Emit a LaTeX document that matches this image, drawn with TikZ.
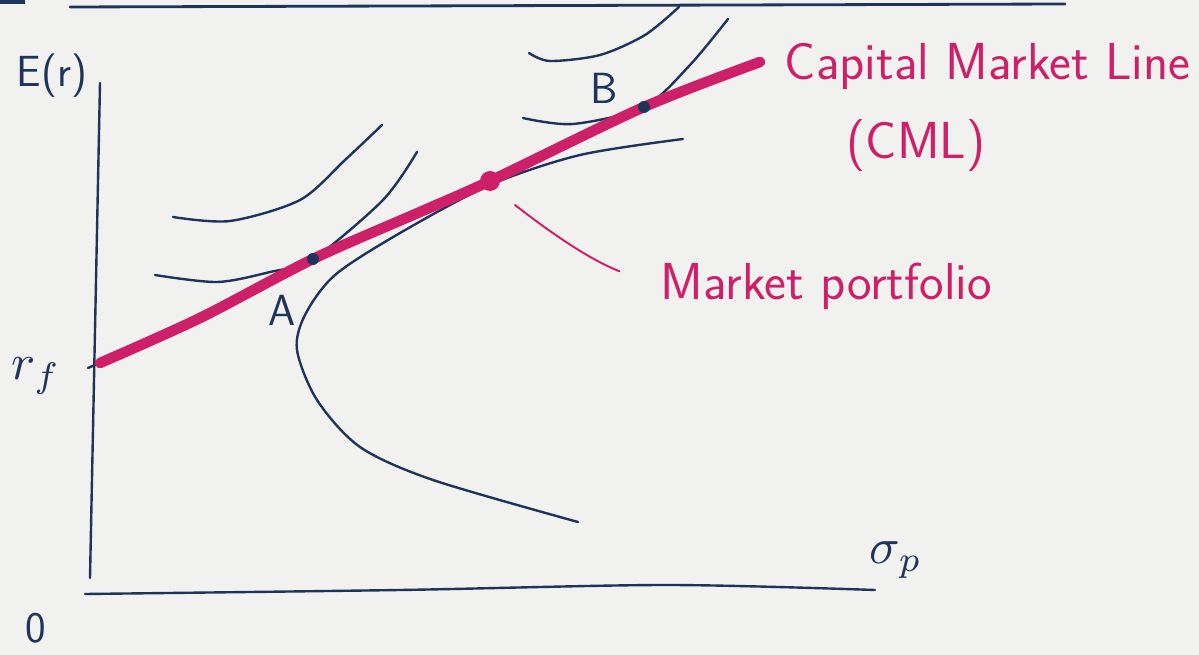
\documentclass[tikz,border=0pt]{standalone}
\usepackage{tikz}
\usepackage{xcolor}
\definecolor{ink}{RGB}{30,52,92}
\definecolor{pen}{RGB}{206,32,104}
\definecolor{paper}{RGB}{241,241,239}
\begin{document}
\begin{tikzpicture}[x=0.025cm,y=-0.025cm,line cap=round,line join=round,
  inkline/.style={ink,line width=1.7pt},
  cmlpen/.style={pen,line width=7.5pt},
  hand/.style={font=\sffamily\fontsize{31}{37}\selectfont},
  bighand/.style={font=\sffamily\fontsize{37}{44}\selectfont}]
\fill[paper] (0,0) rectangle (1199,655);
\useasboundingbox (0,0) rectangle (1199,655);
% edge of the page above
\fill[ink] (0,0) rectangle (25,4);
\draw[ink,line width=2pt] (70,7) -- (1065,4);
% axes
\draw[inkline] (100,83) -- (90,578);
\draw[inkline] plot[smooth] coordinates {(85,594) (400,590) (667,585) (875,590)};
\draw[inkline] (88,368) -- (104,361);
\node[hand,ink] (er) at (52,76) {E(r)};
\node[ink,scale=3.6] (rf) at (36,376) {$r_f$};
\node[ink,scale=3.6] (sp) at (896,560) {$\sigma_p$};
\node[hand,ink] (orig) at (36,628) {0};
% efficient frontier
\draw[inkline] plot[smooth] coordinates {(578,522) (433,480) (360,447) (317,400) (297,350)
  (305,315) (335,275) (400,233) (490,185) (580,155) (683,139)};
% indifference curves of A
\draw[inkline] plot[smooth] coordinates {(173,217) (230,221) (300,200) (345,160) (382,125)};
\draw[inkline] plot[smooth] coordinates {(155,275) (217,282) (270,272) (313,259) (383,200) (417,152)};
% indifference curves of B
\draw[inkline] plot[smooth] coordinates {(529,53) (550,61) (600,55) (645,35) (679,7)};
\draw[inkline] plot[smooth] coordinates {(523,118) (573,124) (644,107) (690,65) (728,19)};
% capital market line
\draw[cmlpen] plot[smooth] coordinates {(100,363) (200,318) (313,259) (420,212) (490,181) (644,107) (760,62)};
\coordinate (A) at (313,259);
\coordinate (B) at (644,107);
\coordinate (M) at (490,181);
\fill[ink] (A) circle (6);
\fill[ink] (B) circle (6);
\fill[pen] (M) circle (10);
\node[hand,ink] (Alab) at (282,310) {A};
\node[hand,ink] (Blab) at (604,88) {B};
% labels in pen
\node[bighand,pen,anchor=west] (cmltitle) at (780,66) {Capital Market Line};
\node[bighand,pen] (cmlabbr) at (916,146) {(CML)};
\node[bighand,pen,anchor=west] (mplab) at (656,286) {Market portfolio};
\coordinate (ptr) at (515,205);
\draw[pen,line width=1.4pt,shorten >=28] (ptr) to[bend right=8] (mplab.west);
\end{tikzpicture}
\end{document}
